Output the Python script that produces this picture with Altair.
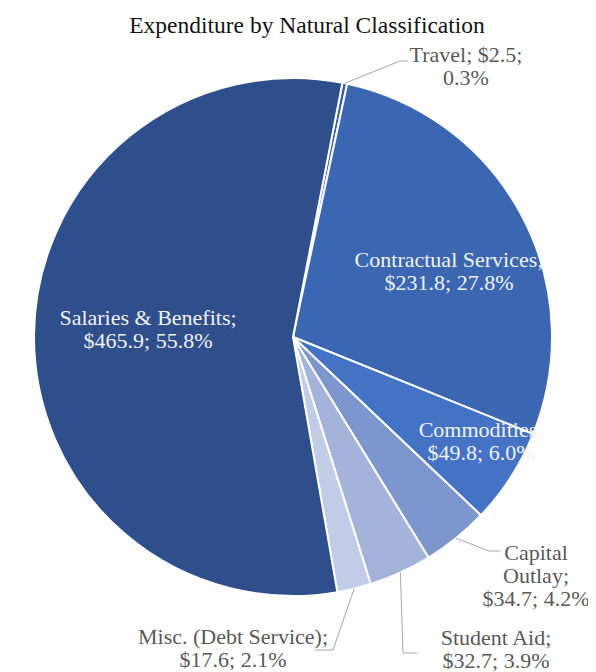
import math
import altair as alt
import pandas as pd

# ---- data ----
categories = ["Travel", "Contractual Services", "Commodities", "Capital Outlay",
              "Student Aid", "Misc. (Debt Service)", "Salaries & Benefits"]
values = [2.5, 231.8, 49.8, 34.7, 32.7, 17.6, 465.9]
# how each category name is wrapped in its data label
label_names = ["Travel", "Contractual Services", "Commodities", "Capital\nOutlay",
               "Student Aid", "Misc. (Debt Service)", "Salaries & Benefits"]
inside = [False, True, True, False, False, False, True]

# ---- styles / layout ----
colors = ["#3A5EA6", "#3B66B1", "#4472C4", "#7E96CE", "#A4B3DA", "#C3CCE7", "#2E4F8B"]
W, H = 570, 594
R = 259
START = math.radians(11)
# label anchor (centre of first line) offsets from the pie centre (px, y down)
label_pos = {
    "Travel": (173, -282),
    "Contractual Services": (156, -77),
    "Commodities": (188, 93),
    "Capital Outlay": (243, 216),
    "Student Aid": (203, 301),
    "Misc. (Debt Service)": (-60, 300),
    "Salaries & Benefits": (-145, -19),
}
# leader line elbow and end points (px from centre, y down)
leader_pts = {
    "Travel": [(107, -276), (115, -276)],
    "Capital Outlay": [(196, 214), (207, 214)],
    "Student Aid": [(110, 316), (124, 316)],
    "Misc. (Debt Service)": [(40, 313), (22, 313)],
}

total = sum(values)
pcts = [round(v / total * 100, 1) for v in values]

def make_label(cat, name, v, p):
    if cat == "Travel":
        return f"{name}; ${v:.1f};\n{p:.1f}%"
    return f"{name};\n${v:.1f}; {p:.1f}%"

pie_df = pd.DataFrame({
    "category": categories,
    "value": values,
    "idx": list(range(len(categories))),
})

# label table
lab_rows = []
for c, n, v, p, ins in zip(categories, label_names, values, pcts, inside):
    x, y = label_pos[c]
    lab_rows.append({"category": c, "label": make_label(c, n, v, p),
                     "x": x, "y": y, "inside": ins})
lab_df = pd.DataFrame(lab_rows)

# leader lines: start on the pie edge at the slice's middle angle
line_rows = []
cum = 0.0
for c, v in zip(categories, values):
    mid = START + (cum + v / 2) / total * 2 * math.pi
    cum += v
    if c in leader_pts:
        pts = [(R * math.sin(mid), -R * math.cos(mid))] + leader_pts[c]
        for k, (x, y) in enumerate(pts):
            line_rows.append({"category": c, "pt": k, "x": x, "y": y})
line_df = pd.DataFrame(line_rows)

xs = alt.Scale(domain=[-W / 2, W / 2], nice=False, zero=False)
ys = alt.Scale(domain=[-H / 2, H / 2], nice=False, zero=False, reverse=True)

pie = alt.Chart(pie_df).mark_arc(radius=R, stroke="white", strokeWidth=2).encode(
    theta=alt.Theta("value:Q", stack=True,
                    scale=alt.Scale(range=[START, START + 2 * math.pi])),
    color=alt.Color("category:N", scale=alt.Scale(domain=categories, range=colors),
                    legend=None),
    order=alt.Order("idx:Q"),
)

leaders = alt.Chart(line_df).mark_line(color="#A6A6A6", strokeWidth=1).encode(
    x=alt.X("x:Q", scale=xs, axis=None),
    y=alt.Y("y:Q", scale=ys, axis=None),
    detail="category:N",
    order="pt:Q",
)

text_common = dict(font="Liberation Serif", fontSize=22, lineHeight=23,
                   lineBreak="\n", align="center", baseline="middle")

text_in = alt.Chart(lab_df).transform_filter("datum.inside").mark_text(
    color="#F2F2F2", **text_common).encode(
    x=alt.X("x:Q", scale=xs, axis=None),
    y=alt.Y("y:Q", scale=ys, axis=None),
    text="label:N",
)

text_out = alt.Chart(lab_df).transform_filter("!datum.inside").mark_text(
    color="#595959", **text_common).encode(
    x=alt.X("x:Q", scale=xs, axis=None),
    y=alt.Y("y:Q", scale=ys, axis=None),
    text="label:N",
)

chart = alt.layer(pie, leaders, text_in, text_out).properties(
    width=W,
    height=H,
    title=alt.Title("Expenditure by Natural Classification", font="Liberation Serif",
                    fontSize=23.5, fontWeight="normal", color="#141414",
                    anchor="middle", baseline="alphabetic", offset=12, dx=14,
                    dy=28, frame="group"),
    autosize=alt.AutoSizeParams(type="none"),
    padding={"left": 0, "top": 32, "right": 10, "bottom": 38},
).configure_view(stroke=None)

chart.save("out.html", embed_options={"renderer": "svg", "actions": False})
